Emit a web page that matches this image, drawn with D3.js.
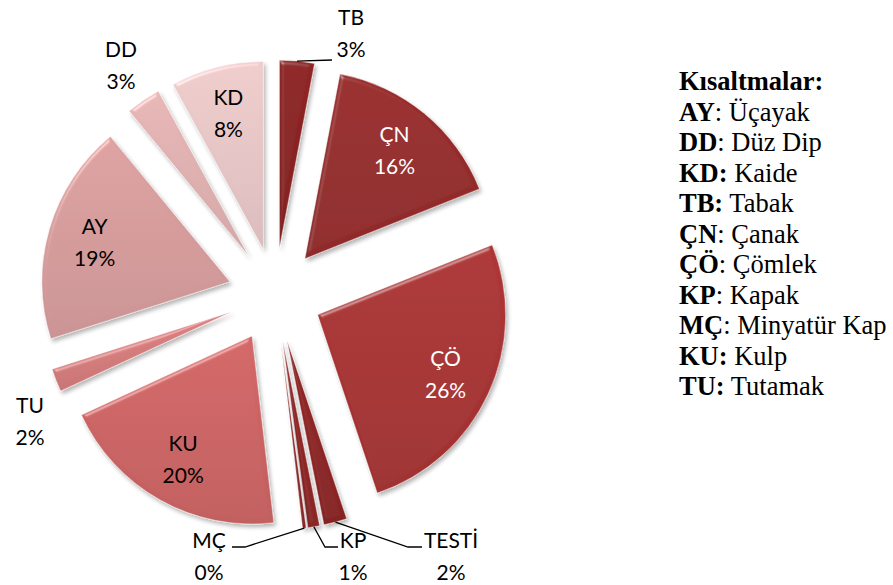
<!DOCTYPE html>
<html>
<head>
<meta charset="utf-8">
<script src="https://cdn.jsdelivr.net/npm/d3@7"></script>
<style>
  body { margin: 0; background: #fff; }
  svg { display: block; }
</style>
</head>
<body>
<script>
// slice data, clockwise from 12 o'clock
var categories = ["TB", "ÇN", "ÇÖ", "TESTİ", "KP", "MÇ", "KU", "TU", "AY", "DD", "KD"];
var values = [3, 16, 26, 2, 1, 0.3, 20, 2, 19, 3, 8];
var sliceColors = ["#8a2424", "#962b2b", "#a83434", "#8e2626", "#922828", "#8b2424",
                   "#cd6464", "#d57c7c", "#d69c9c", "#e0b1b1", "#e7c6c6"];
var whiteText = ["ÇN", "ÇÖ"];

// legend
var legendKeys = ["AY", "DD", "KD", "TB", "ÇN", "ÇÖ", "KP", "MÇ", "KU", "TU"];
var legendNames = ["Üçayak", "Düz Dip", "Kaide", "Tabak", "Çanak", "Çömlek", "Kapak", "Minyatür Kap", "Kulp", "Tutamak"];
var boldColon = [false, false, true, true, false, false, false, false, true, true];

var width = 893, height = 585;
var cx = 275, cy = 295, radius = 188, explode = 47, labelR = 188;

// labels that sit outside the pie (first baseline) and their leader bends
var outsideLabels = {
  "TB":    {x: 351, y: 25,  leader: [[332, 60]]},
  "DD":    {x: 121, y: 57},
  "TU":    {x: 30,  y: 413},
  "MÇ":    {x: 209, y: 548, leader: [[245, 547], [232, 547]]},
  "KP":    {x: 353, y: 548, leader: [[325, 547], [338, 547]]},
  "TESTİ": {x: 451, y: 548, leader: [[408, 547], [422, 547]]}
};

var svg = d3.select("body").append("svg")
    .attr("width", width)
    .attr("height", height);

var defs = svg.append("defs");

// soft bevel + drop shadow, roughly like the office 3d slice look
var f = defs.append("filter").attr("id", "bevel")
    .attr("x", "-20%").attr("y", "-20%").attr("width", "140%").attr("height", "140%");
f.append("feGaussianBlur").attr("in", "SourceAlpha").attr("stdDeviation", 2).attr("result", "blur");
f.append("feSpecularLighting").attr("in", "blur").attr("surfaceScale", 2.5)
    .attr("specularConstant", 0.35).attr("specularExponent", 40)
    .attr("lighting-color", "#ffffff").attr("result", "spec")
  .append("feDistantLight").attr("azimuth", 235).attr("elevation", 40);
f.append("feComposite").attr("in", "spec").attr("in2", "SourceAlpha")
    .attr("operator", "in").attr("result", "specIn");
f.append("feComposite").attr("in", "SourceGraphic").attr("in2", "specIn")
    .attr("operator", "arithmetic").attr("k1", 0).attr("k2", 1).attr("k3", 0.8).attr("k4", 0)
    .attr("result", "lit");
f.append("feGaussianBlur").attr("in", "SourceAlpha").attr("stdDeviation", 2).attr("result", "sb");
f.append("feOffset").attr("in", "sb").attr("dx", 2).attr("dy", 3).attr("result", "so");
f.append("feComponentTransfer").attr("in", "so").attr("result", "sa")
  .append("feFuncA").attr("type", "linear").attr("slope", 0.3);
var merge = f.append("feMerge");
merge.append("feMergeNode").attr("in", "sa");
merge.append("feMergeNode").attr("in", "lit");

// vertical gradient per slice
sliceColors.forEach(function(c, i) {
  var g = defs.append("linearGradient").attr("id", "grad" + i)
      .attr("x1", 0).attr("y1", 0).attr("x2", 0).attr("y2", 1);
  g.append("stop").attr("offset", "0%").attr("stop-color", d3.color(c).brighter(0.1));
  g.append("stop").attr("offset", "100%").attr("stop-color", d3.color(c).darker(0.15));
});

var pie = d3.pie().sort(null).value(function(d) { return d; });
var arcs = pie(values);
var total = d3.sum(values);

var arc = d3.arc().innerRadius(0).outerRadius(radius);

var mid = function(d) { return (d.startAngle + d.endAngle) / 2; };
var offset = function(d, r) {
  var a = mid(d);
  return [Math.sin(a) * r, -Math.cos(a) * r];
};

var chart = svg.append("g")
    .attr("transform", "translate(" + cx + "," + cy + ")");

chart.selectAll("path.slice")
    .data(arcs)
  .enter().append("path")
    .attr("class", "slice")
    .attr("transform", function(d) {
      var o = offset(d, explode);
      return "translate(" + o[0] + "," + o[1] + ")";
    })
    .attr("d", arc)
    .style("fill", function(d, i) { return "url(#grad" + i + ")"; })
    .style("stroke", "#fff")
    .style("stroke-width", 0.4)
    .attr("filter", "url(#bevel)");

var pct = function(v) { return Math.round(v / total * 100) + "%"; };

// labels
var labelFont = "Lato, 'Open Sans', sans-serif";
arcs.forEach(function(d, i) {
  var name = categories[i];
  var lx, ly;
  var out = outsideLabels[name];
  if (out) {
    lx = out.x - cx;
    ly = out.y - cy;
  } else {
    var o = offset(d, labelR);
    lx = o[0];
    ly = o[1] - 8;
  }
  var t = chart.append("text")
      .attr("text-anchor", "middle")
      .style("font-family", labelFont)
      .style("font-size", "21px")
      .style("fill", whiteText.indexOf(name) >= 0 ? "#fff" : "#000");
  t.append("tspan").attr("x", lx).attr("y", ly).text(name);
  t.append("tspan").attr("x", lx).attr("y", ly + 32).text(pct(values[i]));

  if (out && out.leader) {
    var start = offset(d, explode + radius);
    var pts = [start].concat(out.leader.map(function(p) { return [p[0] - cx, p[1] - cy]; }));
    chart.append("path")
        .attr("d", d3.line()(pts))
        .style("fill", "none")
        .style("stroke", "#000")
        .style("stroke-width", 1.3);
  }
});

// legend
var serif = "'Liberation Serif', 'Times New Roman', 'DejaVu Serif', serif";
var legend = svg.append("g")
    .attr("transform", "translate(679,90)");

legend.append("text")
    .attr("x", 0).attr("y", 0)
    .style("font-family", serif)
    .style("font-size", "26.5px")
    .style("font-weight", "bold")
    .text("Kısaltmalar:");

legendKeys.forEach(function(k, i) {
  var t = legend.append("text").attr("x", 0).attr("y", (i + 1) * 30.5)
      .style("font-family", serif)
      .style("font-size", "26.5px");
  t.append("tspan").style("font-weight", "bold").text(k + (boldColon[i] ? ":" : ""));
  t.append("tspan").text((boldColon[i] ? "" : ":") + " " + legendNames[i]);
});
</script>
</body>
</html>
